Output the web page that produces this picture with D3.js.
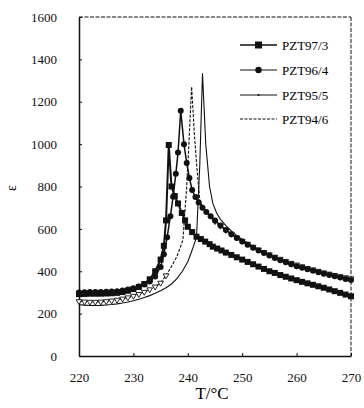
<!DOCTYPE html>
<html>
<head>
<meta charset="utf-8">
<script src="https://cdn.jsdelivr.net/npm/d3@7"></script>
<style>
    body { margin: 0; background: white; }
</style>
</head>
<body>
<script>
// -------------------------------------------------------------------------- //
//                                  DATA                                      //
// -------------------------------------------------------------------------- //

var seriesNames = ["PZT97/3", "PZT96/4", "PZT95/5", "PZT94/6"];

var t97 = [220, 221, 222, 223, 224, 225, 226, 227, 228, 229, 230, 231, 232, 233, 234, 235, 235.6, 236, 236.5, 237, 237.6, 238.2, 238.9, 239.5, 240, 240.8, 241.6, 242.4, 243.2, 244, 244.6, 245.4, 246.2, 247, 248, 249, 250, 251, 252, 253, 254, 255, 256, 257, 258, 259, 260, 261, 262, 263, 264, 265, 266, 267, 268, 269, 270];
var e97 = [292, 293, 294, 294, 294, 295, 296, 298, 302, 308, 316, 326, 340, 362, 400, 455, 520, 640, 996, 800, 755, 720, 675, 640, 610, 585, 563, 552, 540, 528, 516, 507, 498, 488, 477, 466, 455, 444, 433, 422, 411, 400, 392, 382, 374, 366, 358, 350, 343, 336, 329, 322, 314, 306, 298, 290, 282];

var t96 = [220, 221, 222, 223, 224, 225, 226, 227, 228, 229, 230, 231, 232, 233, 234, 235, 235.6, 236.2, 236.8, 237.3, 237.8, 238.2, 238.7, 239.3, 239.8, 240.3, 240.8, 241.4, 242, 242.7, 243.4, 244.2, 245, 246, 247, 248, 249, 250, 251, 252, 253, 254, 255, 256, 257, 258, 259, 260, 261, 262, 263, 264, 265, 266, 267, 268, 269, 270];
var e96 = [300, 301, 302, 302, 302, 303, 304, 306, 309, 314, 320, 328, 338, 352, 375, 420, 480, 560, 660, 752, 860, 960, 1157, 1000, 911, 840, 783, 750, 725, 700, 680, 660, 640, 616, 595, 575, 557, 540, 525, 511, 498, 486, 474, 463, 452, 442, 433, 424, 416, 409, 402, 395, 388, 382, 376, 370, 364, 359];

var t95 = [220, 221, 222, 223, 224, 225, 226, 227, 228, 229, 230, 231, 232, 233, 234, 235, 236, 237, 238, 239.1, 239.8, 240.2, 240.7, 241.2, 241.7, 242.2, 243, 244, 245, 246, 247, 248, 249, 250, 251, 252, 253, 254, 255, 256, 257, 258, 259, 260, 261, 262, 263, 264, 265, 266, 267, 268, 269, 270];
var e95 = [258, 256, 255, 255, 256, 258, 261, 265, 270, 276, 283, 292, 302, 314, 327, 345, 380, 422, 470, 547, 800, 1000, 1271, 1050, 880, 736, 690, 660, 636, 614, 594, 576, 559, 543, 529, 515, 502, 490, 479, 468, 458, 448, 439, 431, 423, 415, 408, 401, 394, 388, 382, 376, 371, 366];

var t94 = [220, 221, 222, 223, 224, 225, 226, 227, 228, 229, 230, 231, 232, 233, 234, 235, 236, 237, 238, 239, 240, 240.8, 241.6, 242.2, 242.7, 243.3, 244, 244.6, 245.3, 246, 247, 248, 249, 250, 251, 252, 253, 254, 255, 256, 257, 258, 259, 260, 261, 262, 263, 264, 265, 266, 267, 268, 269, 270];
var e94 = [242, 240, 238, 238, 239, 241, 243, 246, 250, 255, 261, 268, 276, 285, 296, 308, 322, 340, 365, 400, 445, 500, 560, 900, 1334, 1000, 800, 720, 675, 645, 615, 590, 568, 550, 533, 518, 504, 491, 479, 467, 456, 446, 437, 428, 420, 412, 405, 398, 391, 385, 379, 373, 367, 362];

var xTicks = [220, 230, 240, 250, 260, 270];
var yTicks = [0, 200, 400, 600, 800, 1000, 1200, 1400, 1600];

// -------------------------------------------------------------------------- //
//                                  SETUP                                     //
// -------------------------------------------------------------------------- //

var svg = d3.select("body")
    .append("svg")
    .attr("width", 364)
    .attr("height", 408);

var x = d3.scaleLinear().domain([220, 270]).range([79, 351]);
var y = d3.scaleLinear().domain([0, 1600]).range([356, 17]);

var serif = "Liberation Serif";

function toPoints(ts, es) {
    return ts.map(function(t, i) { return { t: t, e: es[i] }; });
}

var lineFunction = d3.line()
    .x(function(d) { return x(d.t); })
    .y(function(d) { return y(d.e); });

// -------------------------------------------------------------------------- //
//                                  FRAME                                     //
// -------------------------------------------------------------------------- //

svg.append("line")
    .attr("x1", x(220)).attr("x2", x(270)).attr("y1", y(1600)).attr("y2", y(1600))
    .attr("stroke", "#111").attr("stroke-width", 1).attr("stroke-dasharray", "4,1.5");
svg.append("line")
    .attr("x1", x(270)).attr("x2", x(270)).attr("y1", y(1600)).attr("y2", y(0))
    .attr("stroke", "#111").attr("stroke-width", 1).attr("stroke-dasharray", "4,1.5");

var xAxis = d3.axisBottom(x).tickValues(xTicks).tickFormat(d3.format("d"))
    .tickSizeInner(-3).tickSizeOuter(0).tickPadding(17);
var yAxis = d3.axisLeft(y).tickValues(yTicks).tickFormat(d3.format("d"))
    .tickSizeInner(-3).tickSizeOuter(0).tickPadding(22);

var gx = svg.append("g").attr("transform", "translate(0," + y(0) + ")").call(xAxis);
var gy = svg.append("g").attr("transform", "translate(" + x(220) + ",0)").call(yAxis);

[gx, gy].forEach(function(g) {
    g.attr("font-family", serif).attr("font-size", 13);
    g.select(".domain").attr("stroke", "#111").attr("stroke-width", 1.5);
    g.selectAll(".tick line").attr("stroke", "#111");
    g.selectAll(".tick text").attr("fill", "#111");
});

svg.append("text")
    .text("ε")
    .attr("transform", "translate(11,188) rotate(-90)")
    .attr("font-family", serif)
    .attr("font-size", 14)
    .attr("text-anchor", "middle")
    .attr("dy", "0.35em");

svg.append("text")
    .text("T/°C")
    .attr("x", 212)
    .attr("y", 399)
    .attr("font-family", serif)
    .attr("font-size", 17)
    .attr("text-anchor", "middle");

// -------------------------------------------------------------------------- //
//                                 SERIES                                     //
// -------------------------------------------------------------------------- //

var plot = svg.append("g");

function drawSeries(pts, width, dash) {
    plot.append("path")
        .attr("d", lineFunction(pts))
        .attr("fill", "none")
        .attr("stroke", "#111")
        .attr("stroke-width", width)
        .attr("stroke-dasharray", dash);
}

var p97 = toPoints(t97, e97);
var p96 = toPoints(t96, e96);
var p95 = toPoints(t95, e95);
var p94 = toPoints(t94, e94);

drawSeries(p94, 1.1, null);
drawSeries(p95, 1.1, "3,1.5");
drawSeries(p96, 1.5, null);
drawSeries(p97, 2, null);

var triangle = d3.symbol().type(d3.symbolTriangle).size(14);
plot.selectAll(".tri")
    .data(p95.filter(function(d) { return d.t < 237 || d.t > 244; }))
    .enter().append("path")
    .attr("transform", function(d) { return "translate(" + x(d.t) + "," + y(d.e) + ") rotate(180)"; })
    .attr("d", triangle)
    .attr("fill", "white")
    .attr("stroke", "#111")
    .attr("stroke-width", 0.9);

plot.selectAll(".circ")
    .data(p96)
    .enter().append("circle")
    .attr("cx", function(d) { return x(d.t); })
    .attr("cy", function(d) { return y(d.e); })
    .attr("r", 3)
    .attr("fill", "#111");

plot.selectAll(".sq")
    .data(p97)
    .enter().append("rect")
    .attr("x", function(d) { return x(d.t) - 3; })
    .attr("y", function(d) { return y(d.e) - 3; })
    .attr("width", 6)
    .attr("height", 6)
    .attr("fill", "#111");

// -------------------------------------------------------------------------- //
//                                 LEGEND                                     //
// -------------------------------------------------------------------------- //

var legendY = [45, 70, 95, 119];
var legend = svg.append("g");

seriesNames.forEach(function(name, i) {
    legend.append("line")
        .attr("x1", 240).attr("x2", 277)
        .attr("y1", legendY[i]).attr("y2", legendY[i])
        .attr("stroke", "#111")
        .attr("stroke-width", i == 0 ? 1.5 : 1.1)
        .attr("stroke-dasharray", i == 3 ? "3,1.5" : null);
    legend.append("text")
        .text(name)
        .attr("x", 282)
        .attr("y", legendY[i])
        .attr("dy", "0.35em")
        .attr("font-family", serif)
        .attr("font-size", 13);
});

legend.append("rect").attr("x", 255).attr("y", legendY[0] - 3.5).attr("width", 7).attr("height", 7).attr("fill", "#111");
legend.append("circle").attr("cx", 258.5).attr("cy", legendY[1]).attr("r", 3.2).attr("fill", "#111");
legend.append("circle").attr("cx", 258.5).attr("cy", legendY[2]).attr("r", 1).attr("fill", "#111");
</script>
</body>
</html>
